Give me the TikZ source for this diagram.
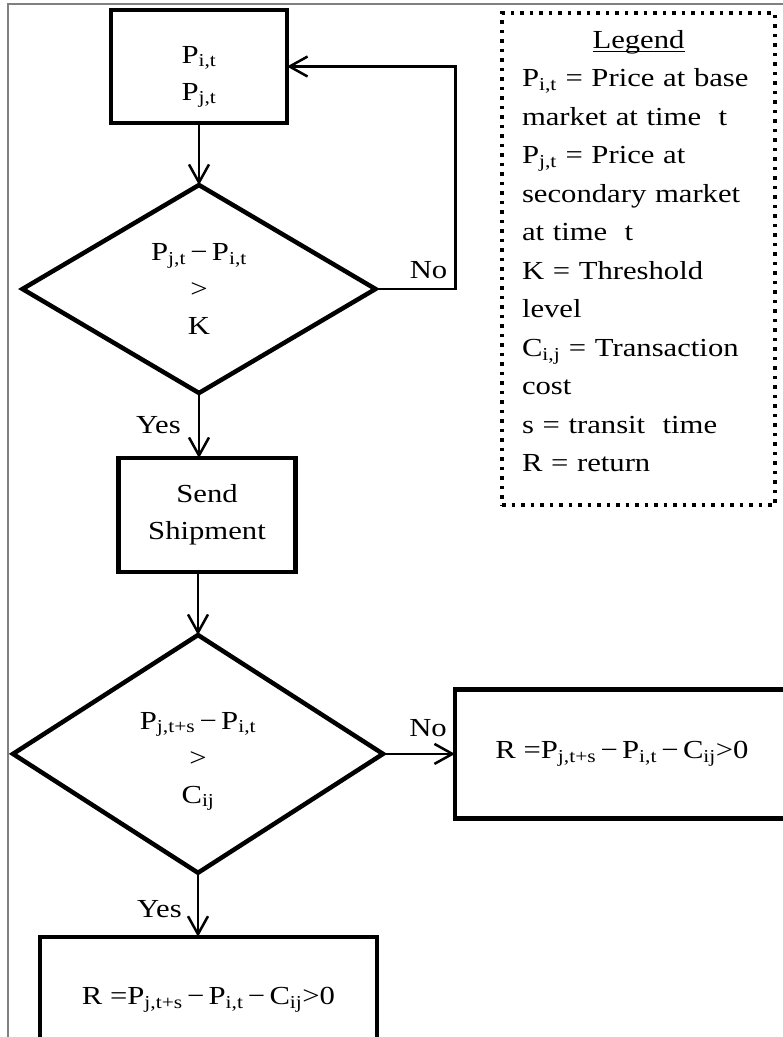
\documentclass[tikz,border=0pt]{standalone}
\usepackage{fontspec}
\setmainfont{Liberation Serif}[FakeStretch=1.18]
\usepackage{tikz}
\usetikzlibrary{shapes.geometric,arrows.meta,positioning}
\definecolor{framegray}{RGB}{128,128,128}
\newcommand{\ulegend}[1]{\setbox0\hbox{#1}\rlap{\rule[-4pt]{\wd0}{1.5pt}}\box0}

\begin{document}
\begin{tikzpicture}[
    x=1pt, y=1pt,
    font=\fontsize{26pt}{37pt}\selectfont,
    box/.style={
        rectangle, draw, line width=4.5pt,
        align=center, inner sep=2pt, outer sep=0pt
    },
    decision/.style={
        diamond, draw, line width=4.5pt,
        align=center, inner sep=2pt, outer sep=0pt
    },
    arrow/.style={-{Straight Barb[length=18pt,width=20pt]}, line width=2.5pt},
    lbl/.style={anchor=base east, inner sep=0pt},
    legendbox/.style={
        rectangle, draw, line width=3.5pt, dash pattern=on 3.5pt off 6pt,
        minimum width=273pt, minimum height=492pt,
        text width=233pt, align=left,
        font=\fontsize{26pt}{38.5pt}\selectfont
    }
]
\useasboundingbox (0,0) rectangle (783,-1037);
\clip (0,0) rectangle (783,-1037);
\draw[framegray, line width=2pt] (8,-4) rectangle (800,-1050);

\node[box, minimum width=176pt, minimum height=113pt] (prices) at (199,-66.5)
    {\rule{0pt}{38pt}P\textsubscript{i,t}\\P\textsubscript{j,t}};
\node[decision, minimum width=353pt, minimum height=208pt, below=62pt of prices] (spread)
    {P\textsubscript{j,t}\,−\,P\textsubscript{i,t}\\>\\K};
\node[box, minimum width=177pt, minimum height=114pt, below=65pt of spread, xshift=8pt] (ship)
    {Send\\Shipment};
\node[decision, minimum width=370pt, minimum height=208pt, below=63pt of ship, xshift=-9pt] (margin)
    {\rule{0pt}{32pt}P\textsubscript{j,t+s}\,−\,P\textsubscript{i,t}\\>\\C\textsubscript{ij}};
\node[box, minimum width=337pt, minimum height=126pt, below=64pt of margin, xshift=10.5pt] (retyes)
    {R =P\textsubscript{j,t+s}\,−\,P\textsubscript{i,t}\,−\,C\textsubscript{ij}>0};
\node[box, minimum width=334pt, minimum height=129pt, right=72pt of margin] (retno)
    {R =P\textsubscript{j,t+s}\,−\,P\textsubscript{i,t}\,−\,C\textsubscript{ij}>0};

\node[legendbox] (legend) at (638.5,-259)
    {\hfill\ulegend{Legend}\hfill\null\\
     P\textsubscript{i,t} = Price at base\\
     market at time~ t\\
     P\textsubscript{j,t} = Price at\\
     secondary market\\
     at time~ t\\
     K = Threshold\\
     level\\
     C\textsubscript{i,j} = Transaction\\
     cost\\
     s = transit~ time\\
     R = return\rule[-16pt]{0pt}{0pt}};

\draw[arrow] (prices) -- (spread);
\draw[arrow] (spread.south) -- (spread.south |- ship.north)
    node[lbl, shift={(-17pt,25pt)}] {Yes};
\draw[arrow] (spread.east) -- ++(80pt,0) node[lbl, shift={(-7pt,11pt)}] {No}
    |- (prices.east);
\draw[arrow] (ship.south -| margin.north) -- (margin.north);
\draw[arrow] (margin.south) -- (margin.south |- retyes.north)
    node[lbl, shift={(-15pt,19pt)}] {Yes};
\draw[arrow] (margin.east) -- (retno.west)
    node[lbl, shift={(-7pt,17pt)}] {No};
\end{tikzpicture}
\end{document}
